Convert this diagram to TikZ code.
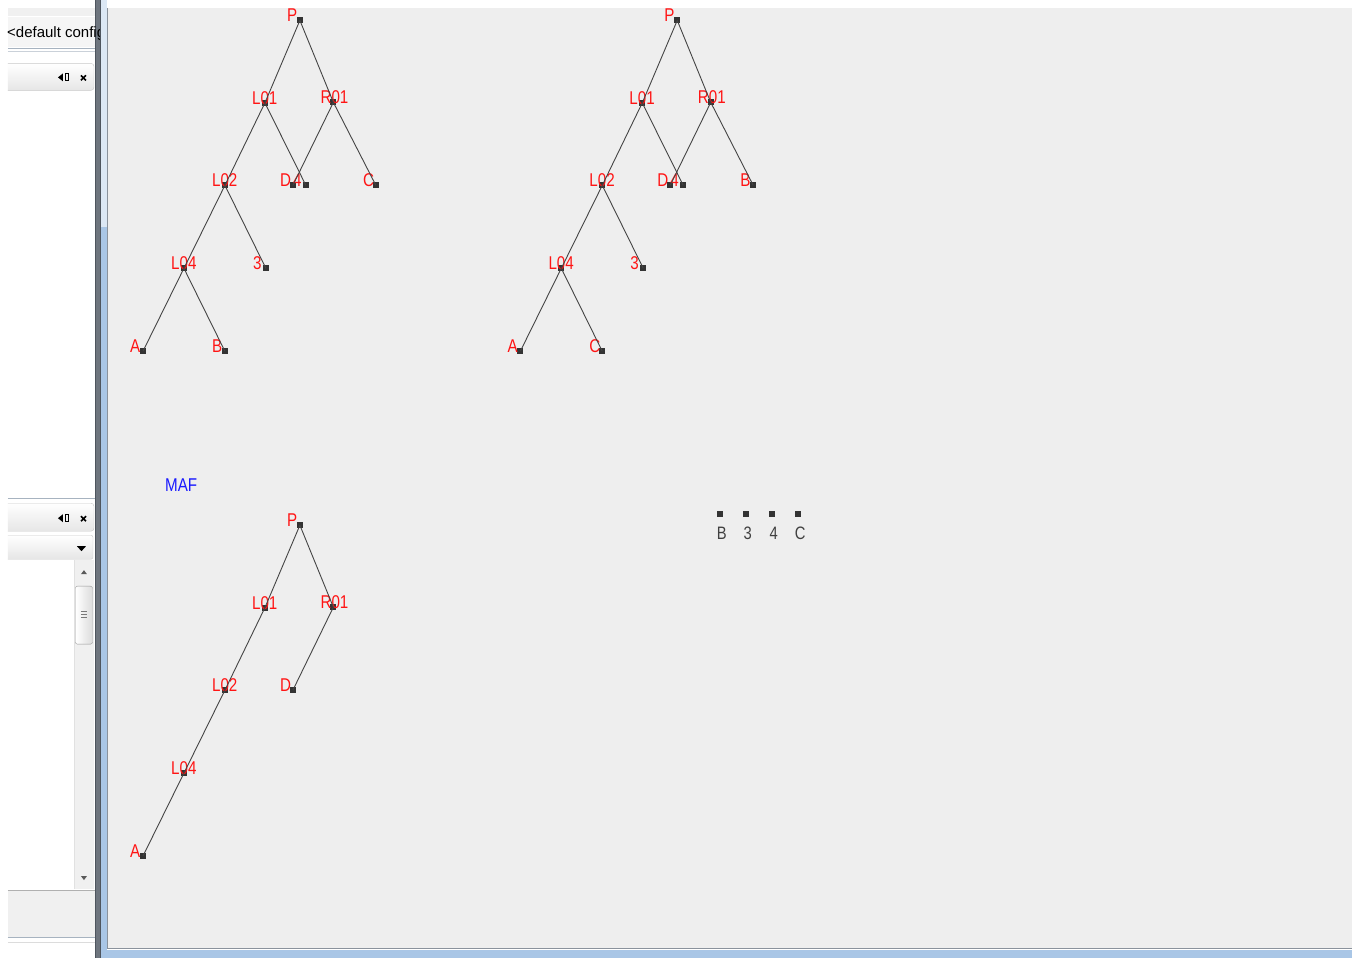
\documentclass[tikz,border=0pt]{standalone}
\usepackage{fontspec}
\newfontfamily\labfont[FakeStretch=0.82]{Liberation Sans}
\newfontfamily\uifont{Liberation Sans}
\definecolor{panel}{HTML}{EEEEEE}
\definecolor{labred}{HTML}{FF1414}
\definecolor{edgegray}{HTML}{444444}
\definecolor{sqgray}{HTML}{333333}
\definecolor{framedark}{HTML}{6E757E}
\definecolor{framedarker}{HTML}{4E555E}
\definecolor{frameblue}{HTML}{A9C6E6}
\definecolor{framelight}{HTML}{DCE8F5}
\definecolor{panelborder}{HTML}{8A929C}
\definecolor{maf}{HTML}{1A1AFF}
\definecolor{uiline}{HTML}{A7B3C0}
\definecolor{uigray}{HTML}{F0F0F0}
\definecolor{rowtext}{HTML}{404040}
\definecolor{lineD0}{HTML}{D0D0D0}
\definecolor{fillF5}{HTML}{F5F5F5}
\definecolor{tabbot}{HTML}{E6E6E6}
\definecolor{tabdraw}{HTML}{C8C8C8}
\definecolor{lineE1}{HTML}{E1E1E1}
\definecolor{arrowgray}{HTML}{5A5A5A}
\definecolor{thumbright}{HTML}{DCDCDC}
\definecolor{thumbdraw}{HTML}{969696}
\definecolor{gripgray}{HTML}{787878}
\definecolor{lineB0}{HTML}{B0B0B0}
\definecolor{lineDC}{HTML}{DCDCDC}
% tree vertex: name, position, label text
\newcommand\tvert[3]{%
  \node[sq] (#1) at #2 {};
  \node[lab] (#1t) at ([xshift=-13pt,yshift=-1.5pt]#1.center) {#3};}
\newcommand\rvert[3]{%
  \node[sq] (#1) at #2 {};
  \node[rowlab] (#1t) at ([xshift=2pt,yshift=-25pt]#1.center) {#3};}
\begin{document}
\begin{tikzpicture}[x=1pt,y=-1pt,
  sq/.style={rectangle,fill=sqgray,minimum size=6pt,inner sep=0pt,outer sep=0pt},
  lab/.style={anchor=base west,inner sep=0pt,text=labred,font=\labfont\fontsize{18.5}{20}\selectfont},
  rowlab/.style={anchor=base,inner sep=0pt,text=rowtext,font=\labfont\fontsize{18}{20}\selectfont},
  e/.style={draw=edgegray,line width=0.9pt},
  tab/.style={top color=white,bottom color=tabbot,draw=tabdraw}
]
% ---------- background and chrome ----------
\fill[white] (0,0) rectangle (1352,958);
\fill[panel] (107,8) rectangle (1352,949);
% left frame
\fill[framedark] (95,0) rectangle (101,958);
\draw[framedarker,line width=0.8pt] (95.5,0) -- (95.5,958);
\draw[framedarker,line width=0.8pt] (100.5,0) -- (100.5,958);
\fill[framelight] (101,0) rectangle (107,227);
\fill[frameblue] (101,227) rectangle (107,958);
\fill[frameblue] (107,950) rectangle (1352,958);
\draw[panelborder,line width=1pt] (107.5,8) -- (107.5,948.5) -- (1352,948.5);
% top sidebar
\fill[uigray] (8,8) rectangle (95,16);
\draw[lineD0] (8,16.5) -- (95,16.5);
\fill[fillF5] (8,17) rectangle (95,47);
\begin{scope}
  \clip (0,0) rectangle (100,958);
  \node[anchor=base west,inner sep=0pt,font=\uifont\fontsize{15}{17}\selectfont] (cfg) at (7,37) {<default config};
\end{scope}
\draw[uiline] (8,47.5) -- (95,47.5);
\draw[uiline!60] (8,50.5) -- (95,50.5);
\shadedraw[tab,rounded corners=3pt] (8,63) -- (94,63) -- (94,90) -- (8,90);
\fill[black] (58,77) -- (63,73) -- (63,81) -- cycle;
\draw[black,line width=0.9pt] (65,73.5) rectangle (68,80.5);
\draw[black,line width=1.6pt] (81,75) -- (86,80) (81,80) -- (86,75);
% lower sidebar
\draw[uiline] (8,497.5) -- (95,497.5);
\shadedraw[tab,rounded corners=3pt] (8,503) -- (94,503) -- (94,531) -- (8,531);
\fill[black] (58,518) -- (63,514) -- (63,522) -- cycle;
\draw[black,line width=0.9pt] (65,514.5) rectangle (68,521.5);
\draw[black,line width=1.6pt] (81,516) -- (86,521) (81,521) -- (86,516);
\shadedraw[tab,rounded corners=2pt] (8,535) -- (93,535) -- (93,559) -- (8,559);
\fill[black] (77,546) -- (86,546) -- (81.5,551) -- cycle;
% scrollbar
\fill[uigray] (74,560) rectangle (94,889);
\draw[lineE1] (74,560) -- (74,889);
\fill[arrowgray] (81,574) -- (87,574) -- (84,570) -- cycle;
\shadedraw[left color=white,right color=thumbright,draw=thumbdraw,rounded corners=2pt] (75.5,586) rectangle (92.5,644);
\draw[gripgray] (81,611.5) -- (87,611.5) (81,614.5) -- (87,614.5) (81,617.5) -- (87,617.5);
\fill[arrowgray] (81,876) -- (87,876) -- (84,880) -- cycle;
\draw[lineB0] (8,890.5) -- (95,890.5);
\fill[uigray] (8,891) rectangle (95,937);
\draw[uiline] (8,937.5) -- (95,937.5);
\draw[lineDC] (8,942.5) -- (95,942.5);
% ---------- tree 1 ----------
\tvert{aP}{(300,20)}{P}
\tvert{aL01}{(265,102.5)}{L01}
\tvert{aR01}{(333.5,102)}{R01}
\tvert{aL02}{(225,185)}{L02}
\tvert{aD}{(293,185)}{D}
\tvert{a4}{(306,185)}{4}
\tvert{aC}{(376,185)}{C}
\tvert{aL04}{(184,268)}{L04}
\tvert{a3}{(266,268)}{3}
\tvert{aA}{(143,351)}{A}
\tvert{aB}{(225,351)}{B}
\draw[e] (aP.center) -- (aL01.center);
\draw[e] (aP.center) -- (aR01.center);
\draw[e] (aL01.center) -- (aL02.center);
\draw[e] (aL01.center) -- (a4.center);
\draw[e] (aR01.center) -- (aD.center);
\draw[e] (aR01.center) -- (aC.center);
\draw[e] (aL02.center) -- (aL04.center);
\draw[e] (aL02.center) -- (a3.center);
\draw[e] (aL04.center) -- (aA.center);
\draw[e] (aL04.center) -- (aB.center);
% ---------- tree 2 ----------
\tvert{bP}{(677.5,20)}{P}
\tvert{bL01}{(642.5,102.5)}{L01}
\tvert{bR01}{(711,102)}{R01}
\tvert{bL02}{(602.5,185)}{L02}
\tvert{bD}{(670.5,185)}{D}
\tvert{b4}{(683.5,185)}{4}
\tvert{bB}{(753.5,185)}{B}
\tvert{bL04}{(561.5,268)}{L04}
\tvert{b3}{(643.5,268)}{3}
\tvert{bA}{(520.5,351)}{A}
\tvert{bC}{(602.5,351)}{C}
\draw[e] (bP.center) -- (bL01.center);
\draw[e] (bP.center) -- (bR01.center);
\draw[e] (bL01.center) -- (bL02.center);
\draw[e] (bL01.center) -- (b4.center);
\draw[e] (bR01.center) -- (bD.center);
\draw[e] (bR01.center) -- (bB.center);
\draw[e] (bL02.center) -- (bL04.center);
\draw[e] (bL02.center) -- (b3.center);
\draw[e] (bL04.center) -- (bA.center);
\draw[e] (bL04.center) -- (bC.center);
% ---------- MAF tree ----------
\node[anchor=base west,inner sep=0pt,text=maf,font=\labfont\fontsize{18.5}{20}\selectfont] (maf) at (165,491) {MAF};
\tvert{cP}{(300,525)}{P}
\tvert{cL01}{(265,607.5)}{L01}
\tvert{cR01}{(333.5,607)}{R01}
\tvert{cL02}{(225,690)}{L02}
\tvert{cD}{(293,690)}{D}
\tvert{cL04}{(184,773)}{L04}
\tvert{cA}{(143,856)}{A}
\draw[e] (cP.center) -- (cL01.center);
\draw[e] (cP.center) -- (cR01.center);
\draw[e] (cL01.center) -- (cL02.center);
\draw[e] (cR01.center) -- (cD.center);
\draw[e] (cL02.center) -- (cL04.center);
\draw[e] (cL04.center) -- (cA.center);
% ---------- row ----------
\rvert{rB}{(720,514)}{B}
\rvert{r3}{(746,514)}{3}
\rvert{r4}{(772,514)}{4}
\rvert{rC}{(798.5,514)}{C}
\useasboundingbox (0,0) rectangle (1352,958);
\end{tikzpicture}
\end{document}
